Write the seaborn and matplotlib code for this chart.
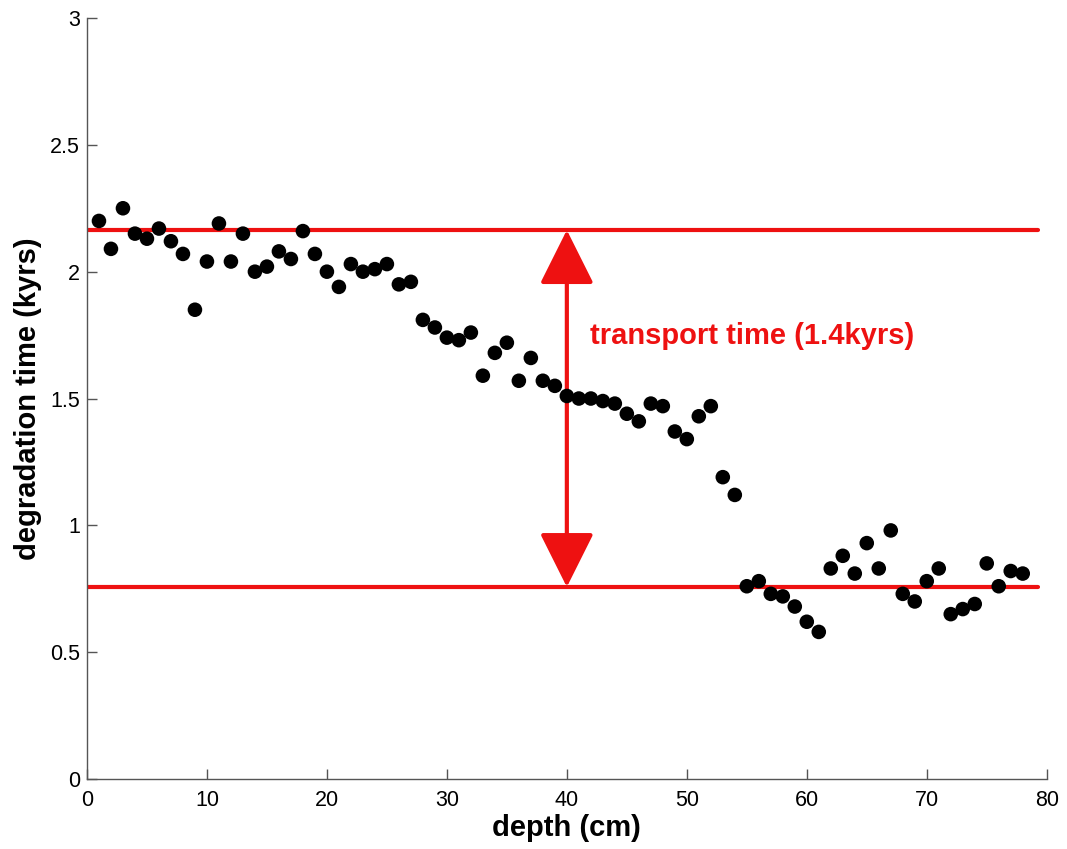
import numpy as np
import pandas as pd
import seaborn as sns
import matplotlib
matplotlib.use('Agg')
import matplotlib.pyplot as plt

# depth (cm) and degradation time (kyrs)
depth = list(range(1, 79))
deg_time = [
    2.20, 2.09, 2.25, 2.15, 2.13, 2.17, 2.12, 2.07, 1.85, 2.04,
    2.19, 2.04, 2.15, 2.00, 2.02, 2.08, 2.05, 2.16, 2.07, 2.00,
    1.94, 2.03, 2.00, 2.01, 2.03, 1.95, 1.96, 1.81, 1.78, 1.74,
    1.73, 1.76, 1.59, 1.68, 1.72, 1.57, 1.66, 1.57, 1.55, 1.51,
    1.50, 1.50, 1.49, 1.48, 1.44, 1.41, 1.48, 1.47, 1.37, 1.34,
    1.43, 1.47, 1.19, 1.12, 0.76, 0.78, 0.73, 0.72, 0.68, 0.62,
    0.58, 0.83, 0.88, 0.81, 0.93, 0.83, 0.98, 0.73, 0.70, 0.78,
    0.83, 0.65, 0.67, 0.69, 0.85, 0.76, 0.82, 0.81,
]
upper_level = 2.164
lower_level = 0.757
arrow_depth = 40
label_text = 'transport time (1.4kyrs)'

df = pd.DataFrame({'depth': depth, 'degradation': deg_time})

sns.set_style('ticks')
plt.rcParams['font.family'] = ['Liberation Sans', 'DejaVu Sans']

fig = plt.figure(figsize=(10.67, 8.49), dpi=100)
ax = fig.add_axes([0.0815, 0.0824, 0.8995, 0.8964])

sns.scatterplot(data=df, x='depth', y='degradation', color='black', s=110,
                edgecolor='none', ax=ax, zorder=3)

red = '#ee1111'
ax.plot([0, 79.3], [upper_level, upper_level], color=red, lw=3, zorder=2)
ax.plot([0, 79.3], [lower_level, lower_level], color=red, lw=3, zorder=2)

ax.annotate('', xy=(arrow_depth, upper_level), xytext=(arrow_depth, lower_level),
            arrowprops=dict(arrowstyle='<|-|>,head_length=34,head_width=17',
                            mutation_scale=1, color=red, lw=3,
                            shrinkA=0, shrinkB=0), zorder=2)
ax.text(41.9, 1.745, label_text, color=red, fontsize=21, fontweight='bold',
        va='center', ha='left')

ax.set_xlim(0, 80)
ax.set_ylim(0, 3)
ax.set_xticks(range(0, 81, 10))
ax.set_yticks(np.arange(0, 3.01, 0.5))
ax.set_yticklabels(['0', '0.5', '1', '1.5', '2', '2.5', '3'])
ax.set_xlabel('depth (cm)', fontsize=21, fontweight='bold', labelpad=2, color='black')
ax.set_ylabel('degradation time (kyrs)', fontsize=21, fontweight='bold', labelpad=6,
              color='black')

sns.despine(ax=ax)
for sp in ['left', 'bottom']:
    ax.spines[sp].set_color('#555555')
    ax.spines[sp].set_linewidth(1.0)
ax.tick_params(axis='both', direction='in', length=7, width=1, color='#555555',
               labelsize=15.5, labelcolor='black')
ax.tick_params(axis='x', pad=8)
ax.tick_params(axis='y', pad=5)

fig.savefig('out.png', dpi=100)
